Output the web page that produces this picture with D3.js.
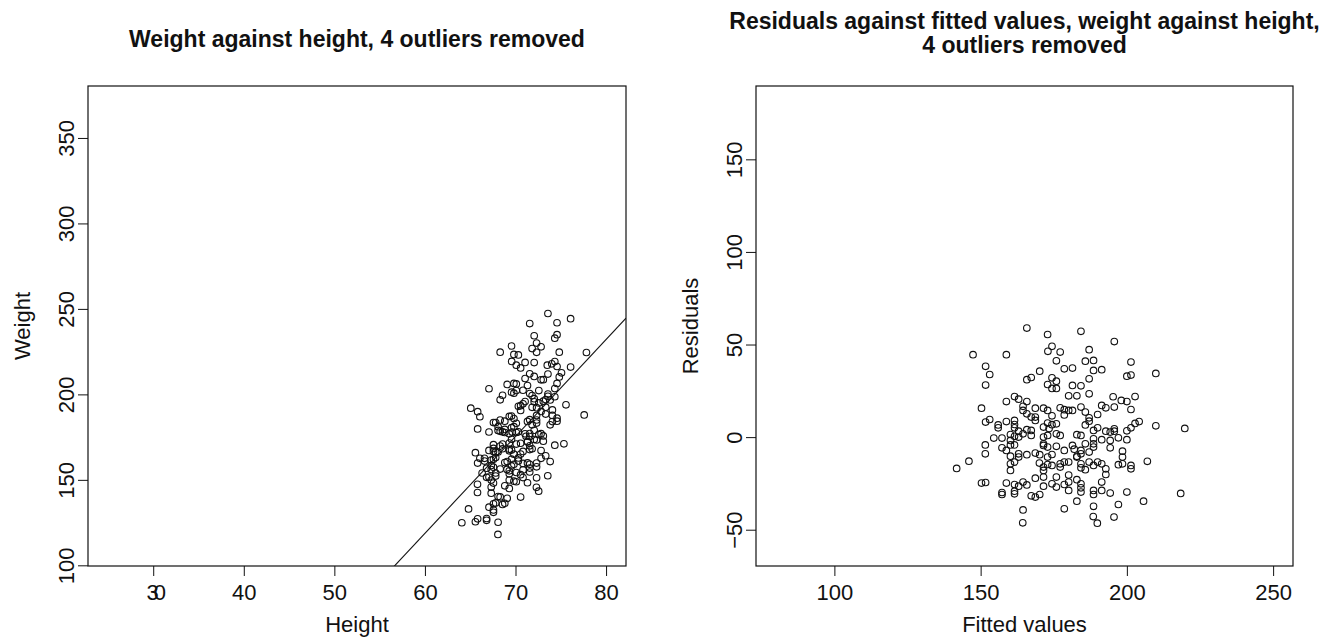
<!DOCTYPE html>
<html>
<head>
<meta charset="utf-8">
<script src="https://cdn.jsdelivr.net/npm/d3@7"></script>
<style>
  body { margin: 0; background: #fff; }
  .vis { width: 1321px; height: 640px; }
  svg text { font-family: "Liberation Sans", Arial, Helvetica, sans-serif; fill: #111; }
</style>
</head>
<body>
<div class="vis"></div>
<script>
(function() {
  'use strict';

  // fitted values and residuals
  var fitted = [
    165.8, 172.9, 184.3, 195.7, 147.4, 158.8, 174.4, 173.0, 177.2, 187.1,
    151.7, 153.1, 151.7, 175.9, 185.8, 188.6, 201.4, 178.6, 181.4, 188.6,
    191.4, 170.2, 165.8, 167.3, 172.9, 174.4, 175.9, 174.4, 175.9, 187.1,
    181.4, 184.3, 200.0, 201.4, 209.9, 180.1, 182.9, 187.1, 158.8, 161.6,
    163.0, 165.8, 195.3, 198.1, 200.0, 202.8, 150.3, 164.5, 164.5, 168.7,
    171.5, 172.9, 177.2, 178.6, 180.1, 181.4, 184.3, 185.8, 191.4, 192.8,
    195.7, 201.4, 165.8, 167.3, 168.7, 174.4, 178.6, 187.1, 190.0, 187.1,
    151.7, 153.1, 156.0, 156.0, 158.8, 161.6, 161.6, 161.6, 168.7, 171.5,
    172.9, 174.4, 175.9, 173.4, 185.8, 188.6, 190.0, 192.8, 195.7, 195.7,
    194.3, 200.0, 201.4, 202.8, 204.2, 209.9, 219.8, 163.0, 165.8, 167.3,
    164.5, 167.3, 154.5, 157.3, 160.2, 160.2, 161.6, 163.0, 171.5, 172.9,
    175.9, 177.2, 182.9, 184.3, 188.6, 191.4, 194.3, 197.1, 200.0, 151.6,
    151.6, 157.3, 158.8, 160.2, 161.6, 160.2, 163.0, 163.0, 161.6, 160.2,
    160.2, 165.8, 168.7, 170.2, 171.5, 171.5, 172.9, 175.9, 174.4, 172.9,
    178.6, 181.4, 182.0, 182.9, 184.3, 184.3, 185.8, 187.1, 188.6, 188.6,
    194.3, 198.5, 198.5, 170.1, 171.5, 171.5, 172.9, 174.4, 177.2, 177.2,
    178.6, 180.1, 182.9, 184.3, 184.3, 185.8, 187.1, 188.6, 190.0, 191.4,
    192.8, 197.1, 198.5, 201.4, 201.4, 207.0, 146.0, 141.8, 168.7, 171.5,
    175.9, 180.1, 182.9, 192.8, 191.4, 150.3, 151.7, 158.8, 161.6, 163.0,
    164.5, 165.8, 171.5, 174.4, 175.9, 178.6, 180.1, 184.3, 184.3, 157.3,
    157.3, 161.6, 161.6, 167.3, 168.7, 170.2, 180.1, 184.3, 188.6, 188.6,
    191.4, 194.3, 200.0, 218.4, 182.9, 188.6, 197.1, 205.7, 164.5, 178.6,
    164.4, 188.5, 189.9, 195.6
  ];
  var residuals = [
    58.9, 55.4, 57.1, 51.6, 44.5, 44.5, 49.0, 46.3, 45.9, 47.2,
    38.2, 33.8, 28.1, 41.2, 41.0, 41.4, 40.5, 36.9, 37.3, 36.0,
    36.4, 35.6, 31.0, 32.2, 28.4, 32.0, 30.2, 26.3, 26.3, 31.5,
    27.9, 27.7, 32.9, 33.5, 34.4, 22.3, 22.3, 23.4, 19.2, 21.9,
    20.5, 19.2, 21.8, 19.8, 19.2, 21.9, 15.6, 16.6, 14.4, 15.6,
    15.6, 14.4, 15.8, 14.8, 14.4, 14.4, 16.2, 13.5, 17.1, 15.8,
    16.2, 14.9, 12.6, 10.8, 10.8, 11.5, 12.0, 10.4, 12.2, 8.6,
    8.1, 9.5, 6.6, 5.0, 8.4, 9.0, 6.8, 5.0, 9.0, 5.4,
    7.6, 6.7, 7.2, 4.6, 6.6, 3.6, 5.0, 3.2, 4.5, 3.2,
    2.7, 3.4, 5.0, 7.4, 8.4, 6.1, 4.7, 3.2, 4.0, 3.6,
    1.8, 0.9, -0.5, -0.5, 1.4, -1.8, 0.4, 0.0, 0.0, 0.9,
    1.8, 0.9, 1.3, 0.9, -0.9, -1.4, -1.8, -0.4, -1.4, -4.2,
    -9.0, -5.8, -7.2, -4.2, -4.2, -10.3, -9.0, -10.8, -13.5, -14.4,
    -18.0, -9.5, -8.6, -9.5, -3.6, -4.5, -5.4, -5.0, -9.4, -10.8,
    -7.2, -4.5, -6.5, -10.4, -7.2, -9.0, -3.6, -8.1, -5.4, -3.6,
    -5.8, -7.6, -10.8, -14.0, -16.2, -18.0, -14.8, -15.3, -14.4, -16.2,
    -13.5, -13.5, -10.8, -14.4, -16.6, -17.6, -13.5, -15.3, -13.5, -14.4,
    -17.1, -14.9, -14.4, -15.3, -17.1, -13.1, -13.0, -16.9, -22.2, -21.6,
    -21.6, -20.5, -23.0, -20.2, -24.3, -24.8, -24.5, -24.8, -25.6, -26.5,
    -24.3, -25.8, -26.5, -25.2, -27.0, -25.6, -24.3, -25.2, -27.4, -29.9,
    -31.0, -29.2, -30.6, -31.7, -32.4, -31.0, -28.8, -29.7, -28.8, -31.0,
    -28.8, -30.2, -29.7, -30.4, -34.6, -37.4, -36.4, -34.6, -39.3, -38.7,
    -46.3, -42.9, -46.5, -43.2
  ];

  // least squares line drawn on the left plot
  var lineIntercept = -221.5,
    lineSlope = 5.67;

  var heightTicks = [30, 40, 50, 60, 70, 80],
    weightTicks = [100, 150, 200, 250, 300, 350],
    fittedTicks = [100, 150, 200, 250],
    residualTicks = [-50, 0, 50, 100, 150];

  // the left plot shows the same people: height recovered from the line, weight = fit + residual
  var people = fitted.map(function(f, i) {
    return {height: (f - lineIntercept) / lineSlope, weight: f + residuals[i]};
  });
  var resid = fitted.map(function(f, i) {
    return {fitted: f, residual: residuals[i]};
  });

  var svg = d3.select('.vis').append('svg')
    .attr('width', 1321)
    .attr('height', 640);

  function panel(o) {
    var x = d3.scaleLinear().domain(o.xDomain).range([o.left, o.right]),
      y = d3.scaleLinear().domain(o.yDomain).range([o.bottom, o.top]);

    var xAxis = svg.append('g')
      .attr('transform', 'translate(0,' + o.bottom + ')')
      .call(d3.axisBottom(x).tickValues(o.xTicks).tickSize(10).tickPadding(8).tickFormat(d3.format('d')));
    xAxis.select('.domain').remove();
    xAxis.selectAll('line').attr('stroke', '#111');
    xAxis.selectAll('text')
      .attr('font-size', 22)
      .attr('font-family', null)
      .style('letter-spacing', function(d) { return d === 30 ? '-5px' : null; });

    var yAxis = svg.append('g')
      .attr('transform', 'translate(' + o.left + ',0)')
      .call(d3.axisLeft(y).tickValues(o.yTicks).tickSize(10).tickFormat(d3.format('d')));
    yAxis.select('.domain').remove();
    yAxis.selectAll('line').attr('stroke', '#111');
    yAxis.selectAll('text')
      .attr('font-size', 22)
      .attr('font-family', null)
      .attr('transform', 'rotate(-90)')
      .attr('x', 0)
      .attr('y', -14)
      .attr('dy', 0)
      .attr('text-anchor', 'middle');

    svg.append('rect')
      .attr('x', o.left)
      .attr('y', o.top)
      .attr('width', o.right - o.left)
      .attr('height', o.bottom - o.top)
      .attr('fill', 'none')
      .attr('stroke', '#111')
      .attr('stroke-width', 1.2);

    svg.append('text')
      .attr('x', (o.left + o.right) / 2)
      .attr('y', 632)
      .attr('text-anchor', 'middle')
      .attr('font-size', 22)
      .text(o.xLabel);

    svg.append('text')
      .attr('transform', 'translate(' + (o.left - 58) + ',' + ((o.top + o.bottom) / 2) + ') rotate(-90)')
      .attr('text-anchor', 'middle')
      .attr('font-size', 22)
      .text(o.yLabel);

    svg.append('text')
      .attr('x', (o.left + o.right) / 2)
      .attr('y', o.titleY)
      .attr('text-anchor', 'middle')
      .attr('font-size', 23)
      .attr('font-weight', 'bold')
      .selectAll('tspan')
      .data(o.title)
      .enter()
      .append('tspan')
        .attr('x', (o.left + o.right) / 2)
        .attr('dy', function(d, i) { return i ? 24 : 0; })
        .text(function(d) { return d; });

    svg.selectAll('.pt-' + o.id)
      .data(o.points)
      .enter()
      .append('circle')
        .attr('class', 'pt-' + o.id)
        .attr('cx', function(d) { return x(d[o.xKey]); })
        .attr('cy', function(d) { return y(d[o.yKey]); })
        .attr('r', 3.3)
        .attr('fill', 'none')
        .attr('stroke', '#111')
        .attr('stroke-width', 1.1);

    return {x: x, y: y};
  }

  var left = panel({
    id: 'a', left: 88, right: 626, top: 86, bottom: 566,
    xDomain: [22.8, 82.2], yDomain: [99.6, 380.4],
    xTicks: heightTicks, yTicks: weightTicks,
    xLabel: 'Height', yLabel: 'Weight',
    title: ['Weight against height, 4 outliers removed'], titleY: 47,
    points: people, xKey: 'height', yKey: 'weight'
  });

  panel({
    id: 'b', left: 756, right: 1293, top: 86, bottom: 566,
    xDomain: [73.2, 256.8], yDomain: [-69.6, 189.6],
    xTicks: fittedTicks, yTicks: residualTicks,
    xLabel: 'Fitted values', yLabel: 'Residuals',
    title: ['Residuals against fitted values, weight against height,', '4 outliers removed'], titleY: 29,
    points: resid, xKey: 'fitted', yKey: 'residual'
  });

  // fitted line, clipped to the left plot box
  svg.append('clipPath').attr('id', 'clipA')
    .append('rect').attr('x', 88).attr('y', 86).attr('width', 538).attr('height', 480);

  var hx = left.x.domain();
  svg.append('line')
    .attr('clip-path', 'url(#clipA)')
    .attr('x1', left.x(hx[0]))
    .attr('y1', left.y(lineIntercept + lineSlope * hx[0]))
    .attr('x2', left.x(hx[1]))
    .attr('y2', left.y(lineIntercept + lineSlope * hx[1]))
    .attr('stroke', '#111')
    .attr('stroke-width', 1.1);
}());
</script>
</body>
</html>
